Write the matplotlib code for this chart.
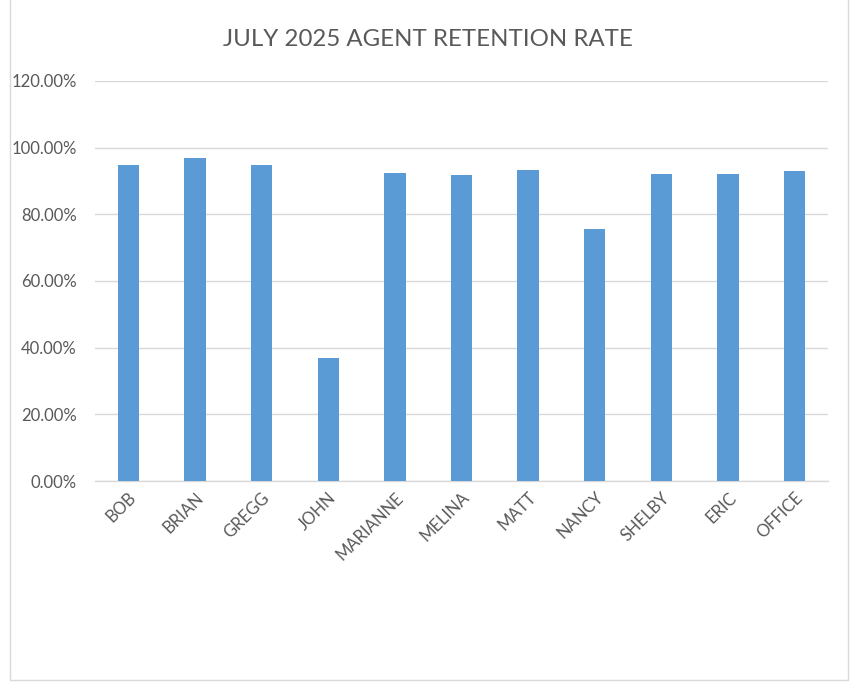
import matplotlib
matplotlib.use("Agg")
import matplotlib.pyplot as plt
from matplotlib.patches import Rectangle
from matplotlib.ticker import FuncFormatter, MultipleLocator

agents = ["BOB", "BRIAN", "GREGG", "JOHN", "MARIANNE", "MELINA", "MATT", "NANCY", "SHELBY", "ERIC", "OFFICE"]
retention = [0.947, 0.970, 0.948, 0.369, 0.924, 0.917, 0.934, 0.755, 0.920, 0.921, 0.929]

plt.rcParams['font.family'] = ['Lato', 'DejaVu Sans']
txt = '#595959'

fig = plt.figure(figsize=(8.58, 6.82), dpi=100)
fig.patch.set_facecolor('white')
fig.add_artist(Rectangle((10/858, 2/682), 838/858, 690/682, transform=fig.transFigure,
                         fill=False, edgecolor='#d9d9d9', linewidth=1))

ax = fig.add_axes([95/858, (682-481)/682, 733/858, 400/682])
x = range(len(agents))
ax.bar(x, retention, width=0.32, color='#5b9bd5', zorder=3)
ax.set_xlim(-0.5, len(agents) - 0.5)
ax.set_ylim(0, 1.2)
ax.yaxis.set_major_locator(MultipleLocator(0.2))
ax.yaxis.set_major_formatter(FuncFormatter(lambda v, p: f"{v*100:.2f}%"))
ax.grid(axis='y', color='#d9d9d9', linewidth=1, zorder=0)
for s in ['top', 'right', 'left']:
    ax.spines[s].set_visible(False)
ax.spines['bottom'].set_color('#d9d9d9')
ax.spines['bottom'].set_linewidth(1)
ax.tick_params(axis='y', length=0, pad=13, labelsize=12, labelcolor=txt)
ax.tick_params(axis='x', length=0, pad=6, labelsize=12, labelcolor=txt)
ax.set_xticks(list(x))
ax.set_xticklabels(agents, rotation=45, ha='right', rotation_mode='anchor')

fig.text(428/858, 1 - 40/682, "JULY 2025 AGENT RETENTION RATE", ha='center', va='center',
         fontsize=17.3, color=txt)

fig.savefig("out.png", dpi=100, facecolor='white')
